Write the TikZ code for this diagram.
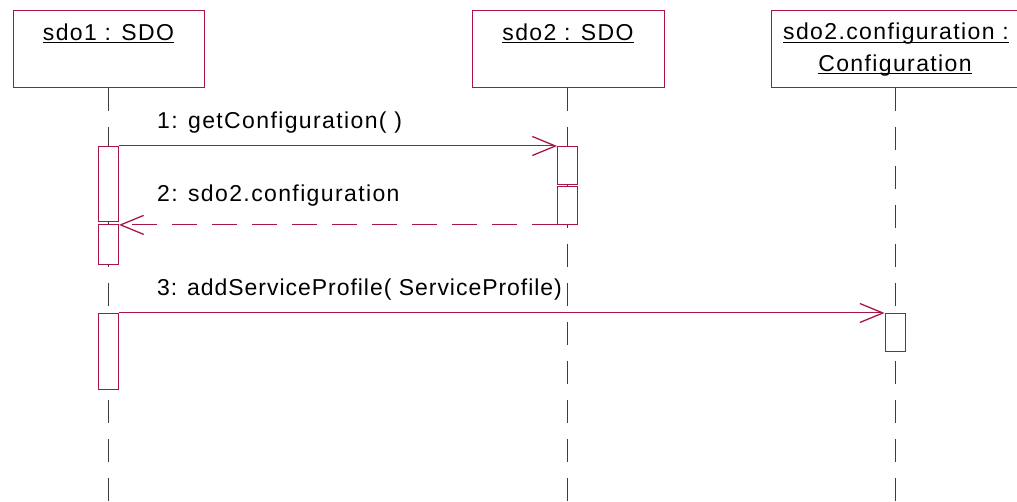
\documentclass[tikz,border=0pt]{standalone}
\usepackage{fontspec}
\setmainfont[LetterSpace=6]{Liberation Sans}
\newfontfamily\tightfont[LetterSpace=4.2]{Liberation Sans}
\usetikzlibrary{arrows.meta}
\definecolor{umlred}{RGB}{168,22,72}
\definecolor{lifegray}{RGB}{60,60,60}
\newcommand\ulx[1]{\setbox0\hbox{#1}\rlap{\rule[-2.8pt]{\wd0}{0.9pt}}\box0}
\tikzset{
  objbox/.style={draw=umlred, line width=1pt, fill=white, minimum height=77pt, inner sep=0pt},
  objtitle/.style={font=\fontsize{23}{31}\selectfont, anchor=base, inner sep=0pt, align=center},
  lifeline/.style={draw=lifegray, line width=1pt, dash pattern=on 23pt off 16pt},
  actbox/.style={draw=umlred, line width=0.9pt, fill=white, minimum width=20pt, inner sep=0pt},
  msg/.style={draw=umlred, line width=1pt, -{Straight Barb[length=23pt, width=19pt, line width=1.3pt]}},
  retmsg/.style={msg, dash pattern=on 25pt off 15pt},
  msglabel/.style={font=\fontsize{23}{28}\selectfont, anchor=base west, inner sep=0pt}
}
\begin{document}
\begin{tikzpicture}[x=1pt,y=-1pt]
\useasboundingbox (0,0) rectangle (1017,502);
% object boxes
\node[objbox, minimum width=191pt, anchor=north west] (o1) at (13,10) {};
\node[objbox, minimum width=192pt, anchor=north west] (o2) at (472,10) {};
\node[objbox, minimum width=248pt, anchor=north west] (o3) at (771,10) {};
% titles
\node[objtitle] (t1) at (108.5,40.5) {\ulx{sdo1 : SDO}};
\node[objtitle] (t2) at (568,40.5) {\ulx{sdo2 : SDO}};
\node[objtitle] (t3a) at (896,40) {\ulx{sdo2.configuration :}};
\node[objtitle] (t3b) at (895,71.5) {\ulx{Configuration}};
% lifeline ends
\coordinate (e1) at (108.5,502);
\coordinate (e2) at (567.5,502);
\coordinate (e3) at (895,502);
\draw[lifeline] (o1.south -| e1) -- (e1);
\draw[lifeline] (o2.south -| e2) -- (e2);
\draw[lifeline] (o3.south -| e3) -- (e3);
% activations
\node[actbox, minimum height=75pt, anchor=north] (a1) at (108.5,146) {};
\node[actbox, minimum height=40pt, anchor=north] (a2) at (108.5,224) {};
\node[actbox, minimum height=76pt, anchor=north] (a3) at (108.5,313) {};
\node[actbox, minimum height=38pt, anchor=north] (b1) at (567.5,146) {};
\node[actbox, minimum height=38pt, anchor=north] (b2) at (567.5,186) {};
\node[actbox, minimum height=38pt, anchor=north] (c1) at (895,313) {};
% messages
\draw[msg] (a1.north east) -- (b1.north west);
\draw[retmsg] (b2.south west) -- (b2.south west -| a2.east);
\draw[msg] (a3.north east) -- (c1.north west);
% labels
\node[msglabel] (m1) at (157,129) {1: getConfiguration( )};
\node[msglabel] (m2) at (157,202) {2: sdo2.configuration};
\node[msglabel, font=\fontsize{23}{28}\tightfont] (m3) at (157,296) {3: addServiceProfile( ServiceProfile)};
\end{tikzpicture}
\end{document}
